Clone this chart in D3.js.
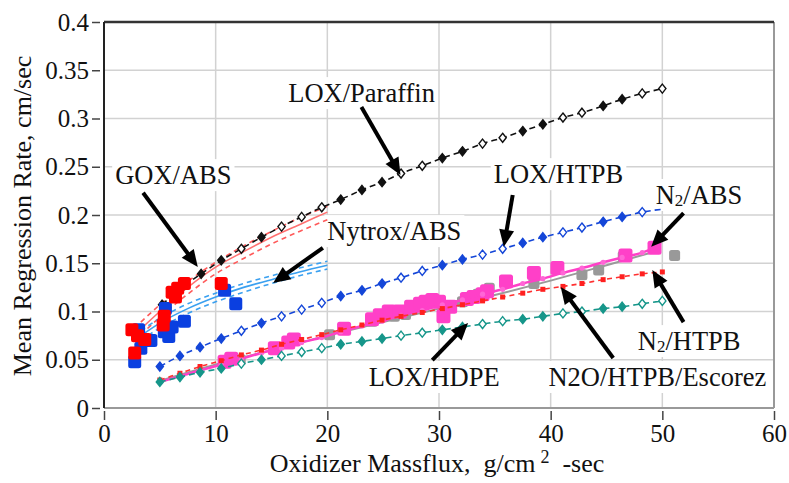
<!DOCTYPE html>
<html><head><meta charset="utf-8">
<script src="https://cdn.jsdelivr.net/npm/d3@7"></script>
<style>
body{margin:0;background:#fff}
svg{display:block;font-family:"Liberation Serif","Times New Roman",serif}
</style></head><body>
<svg id="chart" width="789" height="483"></svg>
<script>
// Axis ticks
const xTicks = [0, 10, 20, 30, 40, 50, 60];
const yTicks = [0, 0.05, 0.1, 0.15, 0.2, 0.25, 0.3, 0.35, 0.4];
const yTickLabels = ["0", "0.05", "0.1", "0.15", "0.2", "0.25", "0.3", "0.35", "0.4"];

// Shared massflux grid for the model curves with markers
const gridX = [5.0, 6.8, 8.6, 10.5, 12.3, 14.1, 15.9, 17.7, 19.5, 21.2, 23.1, 24.9, 26.6,
               28.5, 30.3, 32.1, 33.9, 35.7, 37.5, 39.3, 41.1, 42.8, 44.7, 46.4, 48.2, 50.0];
const markerOpen = [0,0,0,0,1,0,1,1,1,0,0,0,1,1,0,0,1,1,0,0,1,1,0,0,1,1];

const paraffinX = [5.2, 7.0, 8.7, 10.5, 12.3, 14.1, 15.9, 17.7, 19.5, 21.2, 23.1, 24.9, 26.6,
                   28.5, 30.3, 32.1, 33.9, 35.7, 37.5, 39.3, 41.1, 42.8, 44.7, 46.4, 48.2, 50.0];
const paraffinR = [0.107, 0.125, 0.139, 0.153, 0.165, 0.177, 0.188, 0.198, 0.208, 0.216, 0.226, 0.234, 0.243,
                   0.251, 0.259, 0.266, 0.274, 0.280, 0.287, 0.294, 0.301, 0.306, 0.313, 0.320, 0.326, 0.331];
const loxHtpbR = [0.043, 0.054, 0.063, 0.072, 0.080, 0.088, 0.095, 0.102, 0.109, 0.116, 0.122, 0.129, 0.135,
                  0.142, 0.148, 0.154, 0.159, 0.165, 0.171, 0.177, 0.182, 0.187, 0.193, 0.198, 0.203, 0.206];
const loxHdpeR = [0.027, 0.032, 0.037, 0.041, 0.046, 0.050, 0.054, 0.058, 0.062, 0.066, 0.069, 0.072, 0.075,
                  0.078, 0.081, 0.084, 0.087, 0.090, 0.092, 0.095, 0.098, 0.100, 0.103, 0.105, 0.108, 0.111];
const escorezR = [0.029, 0.036, 0.043, 0.049, 0.055, 0.060, 0.066, 0.071, 0.076, 0.081, 0.086, 0.091, 0.095,
                  0.099, 0.103, 0.107, 0.111, 0.115, 0.119, 0.123, 0.126, 0.129, 0.133, 0.136, 0.139, 0.141];
const n2oAbsFitR = [0.027, 0.033, 0.039, 0.045, 0.051, 0.057, 0.062, 0.068, 0.073, 0.079, 0.085, 0.090, 0.096,
                    0.101, 0.107, 0.112, 0.118, 0.123, 0.129, 0.134, 0.140, 0.145, 0.151, 0.156, 0.161, 0.167];
const n2oHtpbFitX = [5, 10, 15, 20, 25, 30, 35, 40, 45, 49];
const n2oHtpbFitR = [0.028, 0.045, 0.060, 0.075, 0.089, 0.103, 0.117, 0.132, 0.148, 0.161];

// GOX/ABS regression fit with confidence bounds
const goxFitX = [3.3, 5, 7.5, 10, 12.5, 15, 17.5, 20];
const goxFitR = [0.082, 0.100, 0.125, 0.146, 0.162, 0.177, 0.190, 0.203];
const goxFitHi = [0.089, 0.107, 0.131, 0.151, 0.168, 0.183, 0.197, 0.209];
const goxFitLo = [0.076, 0.094, 0.118, 0.139, 0.155, 0.170, 0.183, 0.195];
// Nytrox/ABS regression fit with confidence bounds
const nytFitX = [3.3, 5, 7.5, 10, 12.5, 15, 17.5, 20];
const nytFitR = [0.075, 0.088, 0.103, 0.115, 0.125, 0.133, 0.141, 0.148];
const nytFitHi = [0.080, 0.093, 0.108, 0.119, 0.129, 0.137, 0.145, 0.152];
const nytFitLo = [0.070, 0.083, 0.098, 0.110, 0.120, 0.129, 0.137, 0.144];

// Test data
const goxX = [2.5, 3.0, 3.65, 2.75, 5.4, 5.3, 6.1, 6.6, 7.2, 6.4, 10.5];
const goxR = [0.081, 0.075, 0.071, 0.057, 0.095, 0.086, 0.120, 0.124, 0.129, 0.115, 0.129];
const nytX = [2.75, 3.3, 3.1, 4.2, 5.5, 5.4, 5.8, 6.1, 7.2, 10.8, 11.8];
const nytR = [0.048, 0.062, 0.081, 0.070, 0.103, 0.079, 0.074, 0.084, 0.090, 0.122, 0.108];
const n2oAbsX = [10.8, 11.4, 15.3, 16.5, 17.0, 21.5, 24.0, 24.7, 25.5, 26.5, 27.5, 28.3, 28.8, 29.4,
                 30.0, 30.4, 31.0, 32.5, 33.1, 33.9, 34.3, 36.0, 38.5, 40.6, 46.7, 49.3];
const n2oAbsR = [0.048, 0.051, 0.062, 0.068, 0.071, 0.082, 0.092, 0.096, 0.100, 0.100, 0.105, 0.108, 0.110, 0.112,
                 0.110, 0.095, 0.105, 0.113, 0.115, 0.118, 0.121, 0.131, 0.140, 0.145, 0.158, 0.166];
const n2oHtpbX = [12.2, 20.2, 24.0, 26.0, 27.0, 30.5, 32.1, 33.5, 34.5, 38.5, 42.8, 44.3, 46.5, 51.1];
const n2oHtpbR = [0.050, 0.076, 0.090, 0.095, 0.097, 0.105, 0.110, 0.118, 0.124, 0.129, 0.138, 0.143, 0.157, 0.158];

// Callouts: label anchor, arrow tail, arrow head (data units)
const labelText = ["GOX/ABS", "LOX/Paraffin", "Nytrox/ABS", "LOX/HTPB", "N2O/ABS", "N2O/HTPB", "N2O/HTPB/Escorez", "LOX/HDPE"];
const labelX = [1.0, 16.5, 20.0, 34.9, 49.4, 47.8, 39.8, 23.7];
const labelR = [0.232, 0.317, 0.174, 0.233, 0.2114, 0.060, 0.0228, 0.0228];
const arrowFrom = [[3.5, 0.223], [23.05, 0.312], [19.6, 0.166], [36.6, 0.2207], [51.9, 0.202], [51.9, 0.089], [45.6, 0.0518], [29.4, 0.0497]];
const arrowTo = [[8.4, 0.146], [26.55, 0.2415], [15.15, 0.1295], [35.8, 0.167], [49.0, 0.167], [49.1, 0.143], [40.9, 0.1254], [32.6, 0.088]];

const svg = d3.select("#chart");
const L = 104, R = 774, T = 22, B = 408;
const x = d3.scaleLinear().domain([0, 60]).range([L, R]);
const y = d3.scaleLinear().domain([0, 0.4]).range([B, T]);

// grid
const grid = svg.append("g").attr("stroke", "#d2d2d2").attr("stroke-width", 1.5);
xTicks.slice(1, -1).forEach(t => grid.append("line").attr("x1", x(t)).attr("x2", x(t)).attr("y1", T).attr("y2", B));
yTicks.slice(1, -1).forEach(t => grid.append("line").attr("x1", L).attr("x2", R).attr("y1", y(t)).attr("y2", y(t)));

// label backgrounds hide the grid behind the callout text
const labelLayer = svg.append("g");
function drawLabel(g, i) {
  const t = g.append("text").attr("x", x(labelX[i])).attr("y", y(labelR[i]))
    .attr("font-size", 26.5).attr("fill", "#111");
  const s = labelText[i];
  if (s === "N2O/ABS" || s === "N2O/HTPB") {
    t.append("tspan").text("N");
    t.append("tspan").text("2").attr("font-size", 17).attr("dy", 2);
    t.append("tspan").text(s.slice(3)).attr("dy", -2);
  } else {
    t.text(s);
  }
  return t;
}
const bgLayer = svg.append("g");

// frame
svg.append("line").attr("x1", L).attr("x2", R).attr("y1", B).attr("y2", B).attr("stroke", "#999").attr("stroke-width", 2);
svg.append("line").attr("x1", R).attr("x2", R).attr("y1", T).attr("y2", B).attr("stroke", "#999").attr("stroke-width", 2);
svg.append("line").attr("x1", L).attr("x2", R).attr("y1", T).attr("y2", T).attr("stroke", "#333").attr("stroke-width", 2.5);
svg.append("line").attr("x1", L).attr("x2", L).attr("y1", T).attr("y2", B).attr("stroke", "#222").attr("stroke-width", 2);

// axes
const xAxis = svg.append("g").attr("transform", `translate(0,${B + 3})`)
  .call(d3.axisBottom(x).tickValues(xTicks).tickSize(9).tickPadding(4).tickFormat(d3.format("d")));
const yAxis = svg.append("g").attr("transform", `translate(${L - 4},0)`)
  .call(d3.axisLeft(y).tickValues(yTicks).tickSize(8).tickPadding(3).tickFormat((d, i) => yTickLabels[i]));
[xAxis, yAxis].forEach(a => {
  a.select(".domain").remove();
  a.selectAll(".tick line").attr("stroke", "#444").attr("stroke-width", 1.5);
  a.selectAll(".tick text").attr("font-family", "Liberation Serif").attr("font-size", 25).attr("fill", "#111");
});

// axis titles
const xt = svg.append("text").attr("x", 437).attr("y", 472).attr("text-anchor", "middle")
  .attr("font-size", 26).attr("fill", "#111");
xt.append("tspan").text("Oxidizer Massflux,\u00a0\u00a0g/cm");
xt.append("tspan").text("2").attr("font-size", 18).attr("dx", 5).attr("dy", -9);
xt.append("tspan").text("\u00a0\u00a0-sec").attr("dy", 9);
svg.append("text").attr("transform", "translate(31,216) rotate(-90)").attr("text-anchor", "middle")
  .attr("font-size", 26).attr("fill", "#111").text("Mean Regression Rate, cm/sec");

// callout text and white boxes
const labelNodes = labelText.map((s, i) => drawLabel(labelLayer, i));
labelNodes.forEach(t => {
  const b = t.node().getBBox();
  bgLayer.append("rect").attr("x", b.x - 3).attr("y", b.y - 1).attr("width", b.width + 6).attr("height", b.height + 2)
    .attr("fill", "#fff");
});
labelLayer.raise();

const data = svg.append("g");
const line = d3.line().x(d => x(d[0])).y(d => y(d[1])).curve(d3.curveMonotoneX);
const zip = (xs, ys) => xs.map((v, i) => [v, ys[i]]);

// fit curves
function fitCurve(xs, ys, color, dash, w) {
  data.append("path").datum(zip(xs, ys)).attr("d", line).attr("fill", "none")
    .attr("stroke", color).attr("stroke-width", w).attr("stroke-dasharray", dash);
}
fitCurve(goxFitX, goxFitHi, "#ff5a5a", "5,4", 1.6);
fitCurve(goxFitX, goxFitLo, "#ff5a5a", "5,4", 1.6);
fitCurve(goxFitX, goxFitR, "#ff7070", null, 1.6);
fitCurve(nytFitX, nytFitHi, "#3aa0f0", "5,4", 1.6);
fitCurve(nytFitX, nytFitLo, "#3aa0f0", "5,4", 1.6);
fitCurve(nytFitX, nytFitR, "#3aa0f0", null, 1.6);

// square data markers
function squares(xs, ys, color, size) {
  data.append("g").selectAll("rect").data(zip(xs, ys)).join("rect")
    .attr("x", d => x(d[0]) - size / 2).attr("y", d => y(d[1]) - size / 2)
    .attr("width", size).attr("height", size).attr("rx", 2.5).attr("fill", color);
}

// N2O curves and data sit underneath the other model lines
fitCurve(n2oHtpbFitX, n2oHtpbFitR, "#9a9a9a", null, 2);
squares(n2oHtpbX, n2oHtpbR, "#999", 11);
squares(n2oAbsX, n2oAbsR, "#ff40c8", 14);
fitCurve(gridX.slice(0, 25).concat([49.5]), n2oAbsFitR, "#ff40c8", null, 2.5);
data.append("g").selectAll("circle").data(zip(gridX.slice(0, 25), n2oAbsFitR)).join("circle")
  .attr("cx", d => x(d[0])).attr("cy", d => y(d[1])).attr("r", 2.6).attr("fill", "#ff66d6");

// Escorez line with small squares
fitCurve(gridX, escorezR, "#ff3030", "5,4", 1.6);
data.append("g").selectAll("rect").data(zip(gridX, escorezR)).join("rect")
  .attr("x", d => x(d[0]) - 2.5).attr("y", d => y(d[1]) - 2.5).attr("width", 5).attr("height", 5)
  .attr("fill", "#ff2020");

// diamond-marker model lines
function diamondSeries(xs, ys, color, lastMarker) {
  fitCurve(xs, ys, color, "6,4", 1.6);
  const pts = zip(xs, ys).map((d, i) => ({ p: d, open: markerOpen[i] }));
  const shown = lastMarker ? pts : pts.slice(0, -1);
  data.append("g").selectAll("path").data(shown).join("path")
    .attr("transform", d => `translate(${x(d.p[0])},${y(d.p[1])})`)
    .attr("d", "M0,-4.5L3.6,0L0,4.5L-3.6,0Z")
    .attr("fill", d => d.open ? "#fff" : color).attr("stroke", color).attr("stroke-width", 1.4);
}
diamondSeries(gridX, loxHdpeR, "#16968a", true);
diamondSeries(gridX, loxHtpbR, "#1446d8", false);
diamondSeries(paraffinX, paraffinR, "#111", true);

squares(nytX, nytR, "#0a3fe0", 13);
squares(goxX, goxR, "#ff0000", 13);

// arrows
const arrows = svg.append("g");
arrowFrom.forEach((f, i) => {
  const x0 = x(f[0]), y0 = y(f[1]), x1 = x(arrowTo[i][0]), y1 = y(arrowTo[i][1]);
  const a = Math.atan2(y1 - y0, x1 - x0), hl = 17, hw = 7.5;
  const bx = x1 - hl * Math.cos(a), by = y1 - hl * Math.sin(a);
  arrows.append("line").attr("x1", x0).attr("y1", y0).attr("x2", bx + 2 * Math.cos(a)).attr("y2", by + 2 * Math.sin(a))
    .attr("stroke", "#000").attr("stroke-width", 4);
  arrows.append("path").attr("fill", "#000")
    .attr("d", `M${x1},${y1}L${bx - hw * Math.sin(a)},${by + hw * Math.cos(a)}L${bx + hw * Math.sin(a)},${by - hw * Math.cos(a)}Z`);
});
</script>
</body></html>
